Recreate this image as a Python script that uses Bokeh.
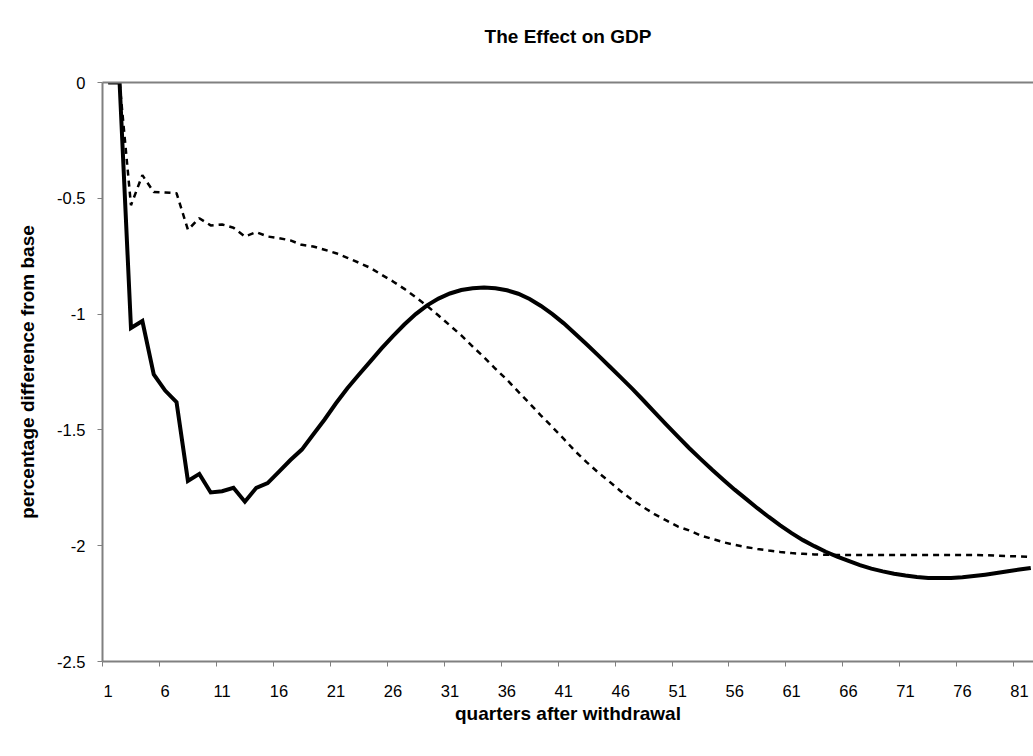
from bokeh.plotting import figure
from bokeh.models import Range1d, FixedTicker, LinearAxis
from bokeh.embed import file_html
from bokeh.resources import INLINE

# ---- data ----
quarters = list(range(1, 83))

gdp_solid = [
    0.0, 0.0, -1.06, -1.03, -1.26, -1.33, -1.38, -1.72, -1.69, -1.77,
    -1.765, -1.75, -1.81, -1.75, -1.73, -1.68, -1.63, -1.585, -1.52, -1.455,
    -1.385, -1.32, -1.262, -1.205, -1.148, -1.095, -1.045, -1.0, -0.962, -0.933,
    -0.911, -0.896, -0.888, -0.885, -0.888, -0.897, -0.912, -0.935, -0.965, -1.0,
    -1.04, -1.085, -1.13, -1.177, -1.225, -1.273, -1.322, -1.373, -1.425, -1.477,
    -1.528, -1.578, -1.625, -1.671, -1.715, -1.758, -1.798, -1.838, -1.876, -1.912,
    -1.946, -1.976, -2.002, -2.026, -2.047, -2.066, -2.084, -2.099, -2.111, -2.121,
    -2.129, -2.135, -2.139, -2.14, -2.139, -2.136, -2.131, -2.125, -2.118, -2.11,
    -2.103, -2.096,
]

gdp_dotted = [
    0.0, 0.0, -0.53, -0.40, -0.473, -0.475, -0.478, -0.636, -0.586, -0.617,
    -0.613, -0.627, -0.665, -0.646, -0.665, -0.672, -0.682, -0.701, -0.708, -0.722,
    -0.737, -0.757, -0.778, -0.80, -0.83, -0.859, -0.891, -0.927, -0.965, -1.006,
    -1.049, -1.092, -1.14, -1.186, -1.236, -1.283, -1.335, -1.386, -1.438, -1.488,
    -1.539, -1.592, -1.639, -1.683, -1.723, -1.765, -1.802, -1.834, -1.865, -1.891,
    -1.917, -1.934, -1.956, -1.97, -1.985, -1.996, -2.006, -2.014, -2.021, -2.027,
    -2.032, -2.035, -2.038, -2.039, -2.04, -2.04, -2.04, -2.04, -2.04, -2.04,
    -2.04, -2.04, -2.04, -2.04, -2.04, -2.04, -2.04, -2.041, -2.043, -2.045,
    -2.046, -2.048,
]

x_tick_labels = ["1", "6", "11", "16", "21", "26", "31", "36", "41", "46", "51",
                 "56", "61", "66", "71", "76", "81"]
y_ticks = [0, -0.5, -1, -1.5, -2, -2.5]
y_tick_labels = ["0", "-0.5", "-1", "-1.5", "-2", "-2.5"]

title_text = "The Effect on GDP"
x_title = "quarters after withdrawal"
y_title = "percentage difference from base"

# ---- figure ----
W, H = 1033, 748
ML, MR, MT, MB = 102, 0, 82, 87
cat_px = 11.39
x_end = 0.5 + (W - ML - MR) / cat_px

FONT = "Liberation Sans"
GREY = "#808080"

p = figure(width=W, height=H, output_backend="svg", toolbar_location=None,
           x_range=Range1d(0.5, x_end), y_range=Range1d(-2.5, 0),
           min_border_left=ML, min_border_right=MR, min_border_top=MT,
           min_border_bottom=MB, title=None, x_axis_type=None,
           y_axis_type=None)

p.outline_line_color = None
p.xgrid.visible = False
p.ygrid.visible = False
p.background_fill_color = "white"
p.border_fill_color = "white"

# x axis (categories centred, tick marks at category boundaries)
label_pos = [int(s) for s in x_tick_labels]
xa = LinearAxis(ticker=FixedTicker(ticks=label_pos,
                                   minor_ticks=[v - 0.5 for v in label_pos]))
xa.major_label_overrides = {v: s for v, s in zip(label_pos, x_tick_labels)}
xa.axis_line_color = GREY
xa.axis_line_width = 2
xa.major_tick_out = 0
xa.major_tick_in = 0
xa.minor_tick_out = 5
xa.minor_tick_in = 0
xa.minor_tick_line_color = GREY
xa.minor_tick_line_width = 1
xa.major_label_standoff = 18
xa.major_label_text_font = FONT
xa.major_label_text_font_size = "16.5px"
xa.major_label_text_color = "black"
xa.axis_label = x_title
xa.axis_label_text_font = FONT
xa.axis_label_text_font_size = "19px"
xa.axis_label_text_font_style = "bold"
xa.axis_label_text_color = "black"
xa.axis_label_standoff = 3
p.add_layout(xa, "below")

# y axis
ya = LinearAxis(ticker=FixedTicker(ticks=y_ticks, minor_ticks=[]))
ya.major_label_overrides = {v: s for v, s in zip(y_ticks, y_tick_labels)}
ya.axis_line_color = GREY
ya.axis_line_width = 2
ya.major_tick_out = 5
ya.major_tick_in = 0
ya.major_tick_line_color = GREY
ya.minor_tick_line_color = None
ya.major_label_standoff = 12
ya.major_label_text_font = FONT
ya.major_label_text_font_size = "16.5px"
ya.major_label_text_color = "black"
ya.axis_label = y_title
ya.axis_label_text_font = FONT
ya.axis_label_text_font_size = "19px"
ya.axis_label_text_font_style = "bold"
ya.axis_label_text_color = "black"
ya.axis_label_standoff = 16
p.add_layout(ya, "left")

# top border line of the plot area, carrying the chart title above it
ta = LinearAxis(ticker=FixedTicker(ticks=[]))
ta.axis_line_color = GREY
ta.axis_line_width = 2
ta.major_tick_out = 0
ta.major_tick_in = 0
ta.major_label_standoff = 0
ta.major_tick_line_color = None
ta.minor_tick_line_color = None
ta.major_label_text_font_size = "0px"
ta.axis_label = title_text
ta.axis_label_text_font = FONT
ta.axis_label_text_font_size = "19px"
ta.axis_label_text_font_style = "bold"
ta.axis_label_text_color = "black"
ta.axis_label_standoff = 36
p.add_layout(ta, "above")

# series
p.line(quarters, gdp_dotted, line_color="black", line_width=2.5,
       line_dash="6 5")
p.line(quarters, gdp_solid, line_color="black", line_width=4,
       line_join="miter")

open("out.html", "w").write(file_html(p, INLINE))
